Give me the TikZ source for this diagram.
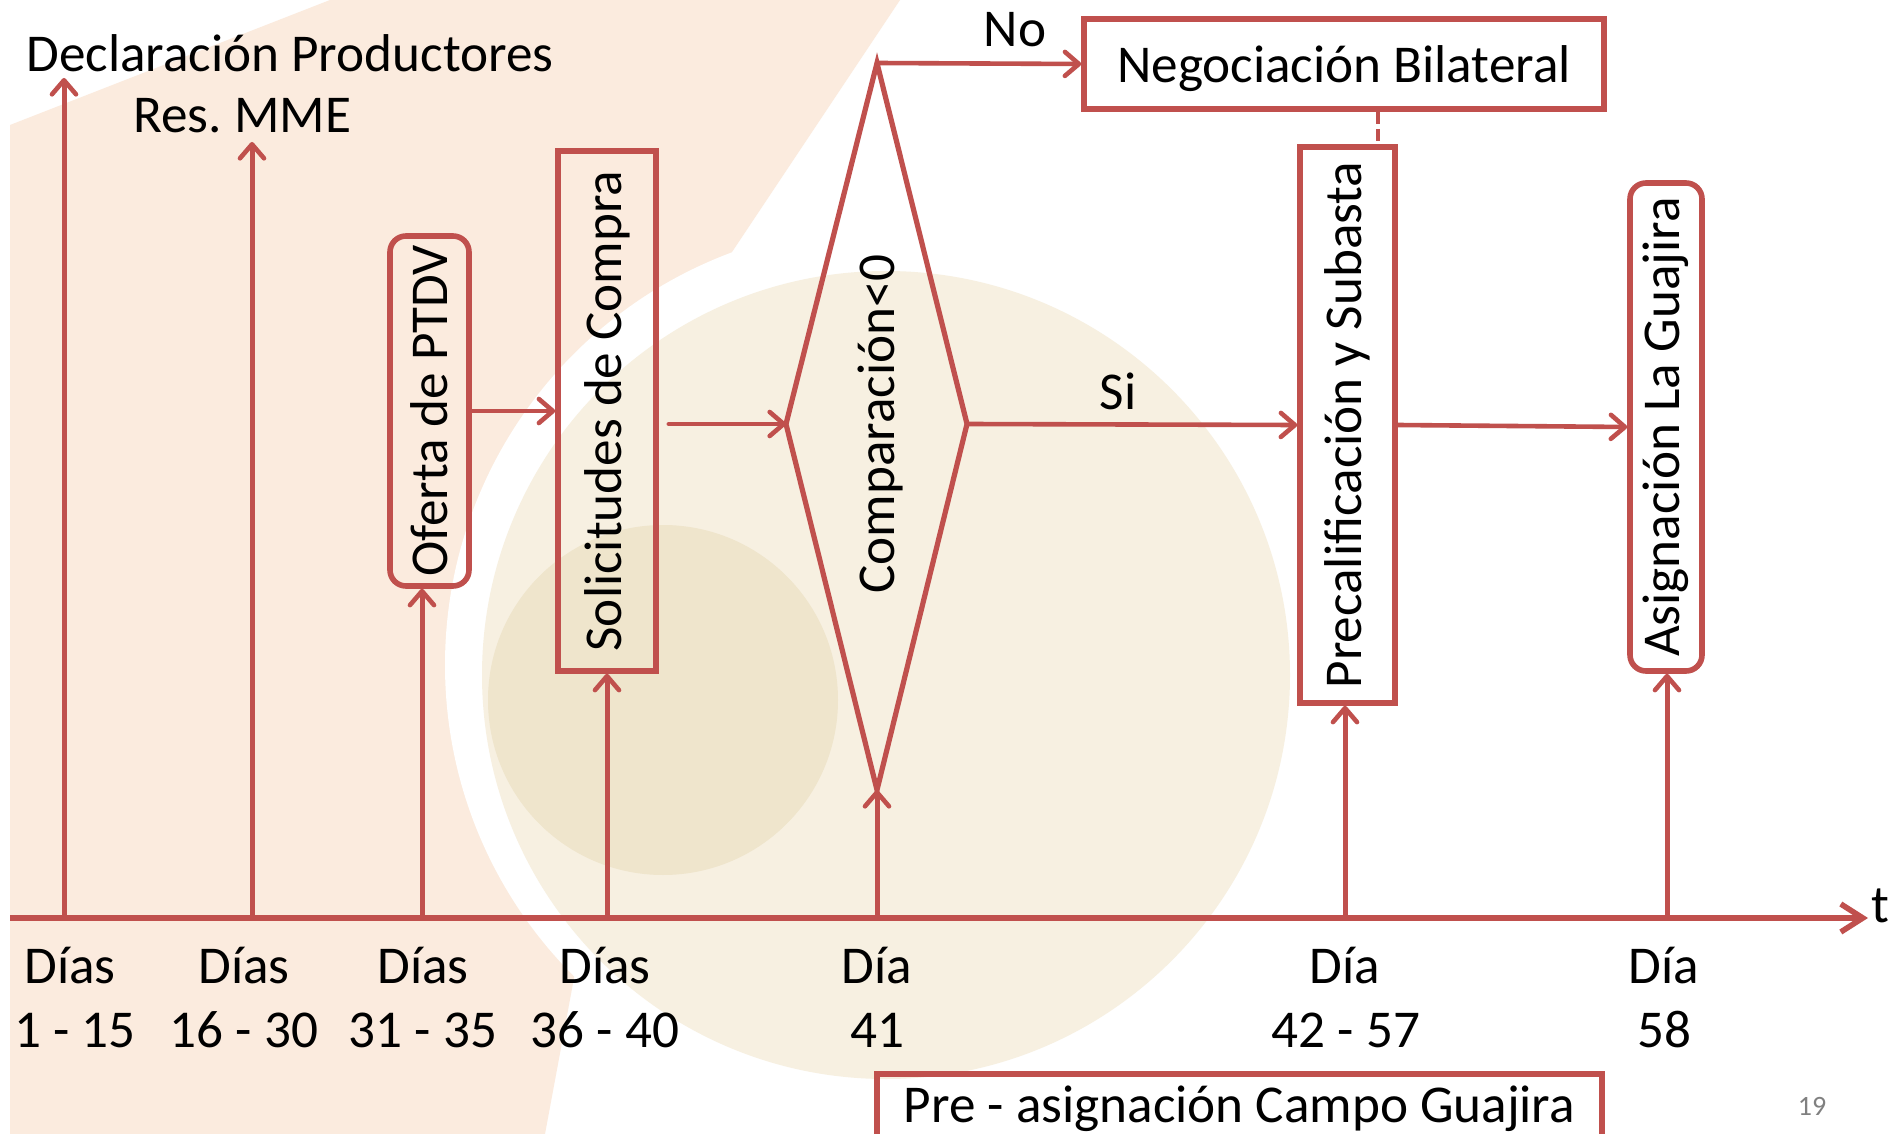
\documentclass[tikz,border=0pt]{standalone}
\usepackage{fontspec}
\usepackage{graphicx}
\setmainfont{Carlito}
\usetikzlibrary{arrows.meta,calc}
\definecolor{lred}{HTML}{C0504D}
\definecolor{peach}{HTML}{FBEBDE}
\definecolor{cream}{HTML}{F7F0E1}
\definecolor{creamd}{HTML}{EFE5CC}
\newcommand\bigtxt{\fontsize{26.6}{32}\selectfont}
\frenchspacing
\begin{document}
\begin{tikzpicture}[x=0.5pt,y=-0.5pt,
  txt/.style={font=\bigtxt, inner sep=0pt, text=black},
  sqbox/.style={draw=lred, line width=2.8pt, inner sep=0pt, font=\bigtxt},
  rbox/.style={sqbox, rounded corners=8pt},
  arr/.style={draw=lred, line width=2.3pt, line cap=round, -{Straight Barb[length=7pt,width=12pt,line width=2.3pt,round]}},
  varr/.style={arr, line width=2.5pt},
  tline/.style={draw=lred, line width=3.4pt, -{Straight Barb[length=11pt,width=14pt,line width=2.8pt]}},
  dashline/.style={draw=lred, line width=2pt, dash pattern=on 6pt off 2.5pt}]
\clip (0,0) rectangle (1891,1134);
% background
\fill[white] (0,0) rectangle (1891,1134);
\fill[peach] (10,125) -- (330,0) -- (900,0) -- (700,300) -- (545,1134) -- (10,1134) -- cycle;
\fill[white] (885,665) circle (440);
\fill[cream] (886,675) circle (404);
\fill[creamd] (663,700) circle (175);
% timeline
\coordinate (t0) at (10,918);
\coordinate (tend) at (1868,918);
\draw[tline] (t0) -- (tend);
\node[txt, anchor=base west] (tt) at (1871,922) {t};
% ticks
\coordinate (ta) at (64,918);   \coordinate (ea) at (64,78);
\coordinate (tb) at (252,918);  \coordinate (eb) at (252,142);
\coordinate (tc) at (422,918);
\coordinate (td) at (607,918);
\coordinate (te) at (877,918);
\coordinate (tf) at (1345,918);
\coordinate (tg) at (1667,918);
% top labels
\node[txt, anchor=base west] (dec) at (26,72) {Declaración Productores};
\node[txt, anchor=base west] (res) at (133,133) {Res. MME};
% boxes
\node[rbox, minimum width=39.5pt, minimum height=175pt] (ofe) at (429.5,411) {\rotatebox{90}{Oferta de PTDV}};
\node[sqbox, minimum width=49pt, minimum height=260pt] (sol) at (607,411) {\rotatebox{90}{Solicitudes de Compra}};
\node[sqbox, minimum width=47.5pt, minimum height=278pt] (pre) at (1347.5,425) {\rotatebox{90}{Precalificación y Subasta}};
\node[rbox, minimum width=36pt, minimum height=244pt] (asg) at (1666,427) {\rotatebox{90}{Asignación La Guajira}};
\node[sqbox, minimum width=260pt, minimum height=45pt, text depth=0pt] (neg) at (1344,64) {Negociación Bilateral};
\node[sqbox, minimum width=362.5pt, minimum height=35pt] (pas) at (1239.5,1109) {Pre - asignación Campo Guajira};
% diamond
\coordinate (dL) at (786,424);
\coordinate (dT) at (877,63);
\coordinate (dR) at (967,424);
\coordinate (dB) at (877,790);
\draw[lred, line width=2.6pt, line join=miter] (dL) -- (dT) -- (dR) -- (dB) -- cycle;
\node[txt] (cmp) at (880,424) {\rotatebox{90}{Comparación<0}};
% vertical arrows
\draw[varr] (ta) -- (ea);
\draw[varr] (tb) -- (eb);
\draw[varr] (tc) -- (tc |- ofe.south);
\draw[varr] (td) -- (sol.south);
\draw[varr] (te) -- (dB);
\draw[varr] (tf) -- (tf |- pre.south);
\draw[varr] (tg) -- (tg |- asg.south);
% horizontal arrows
\draw[arr] (ofe.east) -- (sol.west);
\draw[arr] ($(sol.east |- dL)+(10,0)$) -- (dL);
\draw[arr] (dR) -- (pre.west);
\draw[arr] (pre.east) -- (asg.west);
\draw[arr] (dT) -- (neg.west);
\coordinate (dsh) at ($(neg.south)+(34,0)$);
\draw[dashline] (dsh) -- (dsh |- pre.north);
\node[txt, anchor=base] (no) at (1015,47) {No};
\node[txt, anchor=base] (si) at (1118,409) {Si};
% day labels
\node[txt, anchor=base] (da) at (70,983) {Días};
\node[txt, anchor=base] (db) at (244,983) {Días};
\node[txt, anchor=base] (dc) at (423,983) {Días};
\node[txt, anchor=base] (dd) at (605,983) {Días};
\node[txt, anchor=base] (de) at (877,983) {Día};
\node[txt, anchor=base] (df) at (1345,983) {Día};
\node[txt, anchor=base] (dg) at (1664,983) {Día};
\node[txt, anchor=base] (na) at (75,1047) {1 - 15};
\node[txt, anchor=base] (nb) at (244,1047) {16 - 30};
\node[txt, anchor=base] (nc) at (423,1047) {31 - 35};
\node[txt, anchor=base] (nd) at (605,1047) {36 - 40};
\node[txt, anchor=base] (ne) at (877,1047) {41};
\node[txt, anchor=base] (nf) at (1346,1047) {42 - 57};
\node[txt, anchor=base] (ng) at (1664,1047) {58};
\node[font=\fontsize{14}{16}\selectfont, text=black!50, inner sep=0pt, anchor=base] (pg) at (1812,1115) {19};
\end{tikzpicture}
\end{document}
